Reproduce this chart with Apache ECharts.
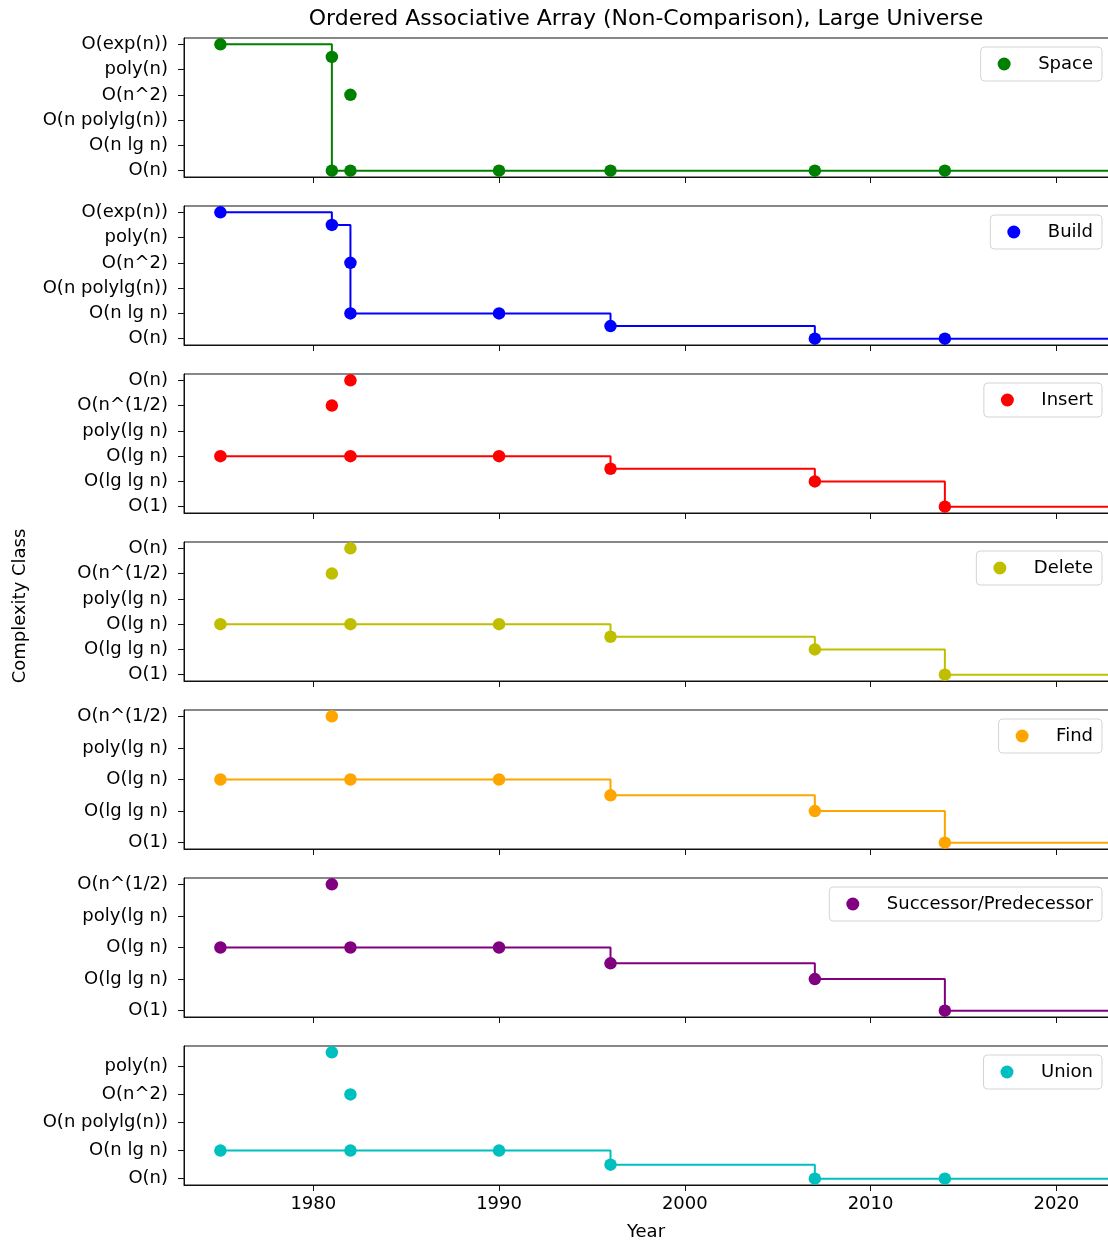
<!DOCTYPE html>
<html>
<head>
<meta charset="utf-8">
<title>Ordered Associative Array (Non-Comparison), Large Universe</title>
<script src="https://cdn.jsdelivr.net/npm/echarts@6/dist/echarts.min.js"></script>
<style>
  html, body { margin: 0; padding: 0; background: #fff; overflow: hidden; }
  #chart { width: 1120px; height: 1244px; }
</style>
</head>
<body>
<div id="chart"></div>
<script>
// ---- data -------------------------------------------------------------
const titleText = 'Ordered Associative Array (Non-Comparison), Large Universe';
const xTickYears = [1980, 1990, 2000, 2010, 2020];
const lineEndYear = 2024;

// complexity-class tick labels, from best (index 0) upwards
const linearClasses = ['O(n)', 'O(n lg n)', 'O(n polylg(n))', 'O(n^2)', 'poly(n)', 'O(exp(n))'];
const opClassesWide = ['O(1)', 'O(lg lg n)', 'O(lg n)', 'poly(lg n)', 'O(n^(1/2)', 'O(n)'];
const opClassesNarrow = ['O(1)', 'O(lg lg n)', 'O(lg n)', 'poly(lg n)', 'O(n^(1/2)'];
const unionClasses = ['O(n)', 'O(n lg n)', 'O(n polylg(n))', 'O(n^2)', 'poly(n)'];

// results: year of publication and complexity level (index into the class list)
const spaceYears = [1975, 1981, 1981, 1982, 1982, 1990, 1996, 2007, 2014];
const spaceLevels = [5, 4.5, 0, 3, 0, 0, 0, 0, 0];

const buildYears = [1975, 1981, 1982, 1982, 1990, 1996, 2007, 2014];
const buildLevels = [5, 4.5, 3, 1, 1, 0.5, 0, 0];

const insertYears = [1975, 1981, 1982, 1982, 1990, 1996, 2007, 2014];
const insertLevels = [2, 4, 5, 2, 2, 1.5, 1, 0];

const deleteYears = [1975, 1981, 1982, 1982, 1990, 1996, 2007, 2014];
const deleteLevels = [2, 4, 5, 2, 2, 1.5, 1, 0];

const findYears = [1975, 1981, 1982, 1990, 1996, 2007, 2014];
const findLevels = [2, 4, 2, 2, 1.5, 1, 0];

const succYears = [1975, 1981, 1982, 1990, 1996, 2007, 2014];
const succLevels = [2, 4, 2, 2, 1.5, 1, 0];

const unionYears = [1975, 1981, 1982, 1982, 1990, 1996, 2007, 2014];
const unionLevels = [1, 4.5, 3, 1, 1, 0.5, 0, 0];

// ---- panels -----------------------------------------------------------
const panels = [
  { name: 'Space', color: '#008000', years: spaceYears, levels: spaceLevels, classes: linearClasses, yMin: -0.25, yMax: 5.25 },
  { name: 'Build', color: '#0000ff', years: buildYears, levels: buildLevels, classes: linearClasses, yMin: -0.25, yMax: 5.25 },
  { name: 'Insert', color: '#ff0000', years: insertYears, levels: insertLevels, classes: opClassesWide, yMin: -0.25, yMax: 5.25 },
  { name: 'Delete', color: '#bfbf00', years: deleteYears, levels: deleteLevels, classes: opClassesWide, yMin: -0.25, yMax: 5.25 },
  { name: 'Find', color: '#ffa500', years: findYears, levels: findLevels, classes: opClassesNarrow, yMin: -0.2, yMax: 4.2 },
  { name: 'Successor/Predecessor', color: '#800080', years: succYears, levels: succLevels, classes: opClassesNarrow, yMin: -0.2, yMax: 4.2 },
  { name: 'Union', color: '#00bfbf', years: unionYears, levels: unionLevels, classes: unionClasses, yMin: -0.225, yMax: 4.725 }
];

// best-known bound over time: running minimum, one step per year
function bestSoFar(years, levels) {
  const order = years.map((y, i) => i).sort((a, b) => years[a] - years[b]);
  const out = [];
  let best = Infinity;
  order.forEach(i => {
    best = Math.min(best, levels[i]);
    const last = out[out.length - 1];
    if (last && last[0] === years[i]) last[1] = best;
    else out.push([years[i], best]);
  });
  out.push([lineEndYear, best]);
  return out;
}

// ---- layout -----------------------------------------------------------
const FONT = 'DejaVu Sans';
const FS = 18;
const gridLeft = 184;
const gridWidth = 934;
const firstTop = 38;
const pitch = 168;
const panelHeight = 139;
const xMin = 1973.04;
const xMax = 2023.32;

const grid = [], xAxis = [], yAxis = [], series = [], legend = [];

panels.forEach((p, i) => {
  const top = firstTop + i * pitch;
  const last = i === panels.length - 1;
  grid.push({
    left: gridLeft, top: top, width: gridWidth, height: panelHeight,
    show: true, borderColor: '#111', borderWidth: 1, backgroundColor: '#fff'
  });
  xAxis.push({
    type: 'value', gridIndex: i, min: xMin, max: xMax,
    axisLine: { show: true, onZero: false, lineStyle: { color: '#111', width: 1 } },
    axisTick: { show: true, length: 6, customValues: xTickYears, lineStyle: { color: '#111', width: 1 } },
    axisLabel: {
      show: last, customValues: xTickYears, margin: 10,
      color: '#000', fontFamily: FONT, fontSize: FS,
      formatter: v => String(v)
    },
    splitLine: { show: false }
  });
  const ticks = p.classes.map((c, k) => k);
  yAxis.push({
    type: 'value', gridIndex: i, min: p.yMin, max: p.yMax,
    axisLine: { show: true, onZero: false, lineStyle: { color: '#111', width: 1 } },
    axisTick: { show: true, length: 6, customValues: ticks, lineStyle: { color: '#111', width: 1 } },
    axisLabel: {
      show: true, customValues: ticks, margin: 16,
      color: '#000', fontFamily: FONT, fontSize: FS,
      formatter: v => p.classes[Math.round(v)]
    },
    splitLine: { show: false }
  });
  series.push({
    type: 'line', name: p.name + ' best', xAxisIndex: i, yAxisIndex: i,
    data: bestSoFar(p.years, p.levels),
    step: 'end', showSymbol: false, symbol: 'none', silent: true,
    lineStyle: { color: p.color, width: 2 }, z: 2, animation: false
  });
  series.push({
    type: 'scatter', name: p.name, xAxisIndex: i, yAxisIndex: i,
    data: p.years.map((y, k) => [y, p.levels[k]]),
    symbol: 'circle', symbolSize: 12.5,
    itemStyle: { color: p.color, opacity: 1 }, z: 3, animation: false
  });
  legend.push({
    data: [p.name], right: 18, top: top + 9,
    orient: 'vertical', icon: 'circle', itemWidth: 16, itemHeight: 13,
    padding: [7, 9, 7, 17], borderColor: '#d4d4d4', borderWidth: 1, borderRadius: 4,
    backgroundColor: 'rgba(255,255,255,0.85)', selectedMode: false,
    textStyle: { color: '#000', fontFamily: FONT, fontSize: FS, lineHeight: 20, padding: [0, 0, 0, 21] }
  });
});

const chart = echarts.init(document.getElementById('chart'), null, { renderer: 'canvas' });
chart.setOption({
  animation: false,
  backgroundColor: '#fff',
  grid, xAxis, yAxis, series, legend,
  graphic: [
    { type: 'text', x: 646, y: 19, style: { text: titleText, font: '22px "DejaVu Sans"', fill: '#000', textAlign: 'center', textVerticalAlign: 'middle' } },
    { type: 'text', x: 646, y: 1232, style: { text: 'Year', font: FS + 'px "DejaVu Sans"', fill: '#000', textAlign: 'center', textVerticalAlign: 'middle' } },
    { type: 'text', x: 20, y: 606, rotation: Math.PI / 2, style: { text: 'Complexity Class', font: FS + 'px "DejaVu Sans"', fill: '#000', textAlign: 'center', textVerticalAlign: 'middle' } }
  ]
});
</script>
</body>
</html>
